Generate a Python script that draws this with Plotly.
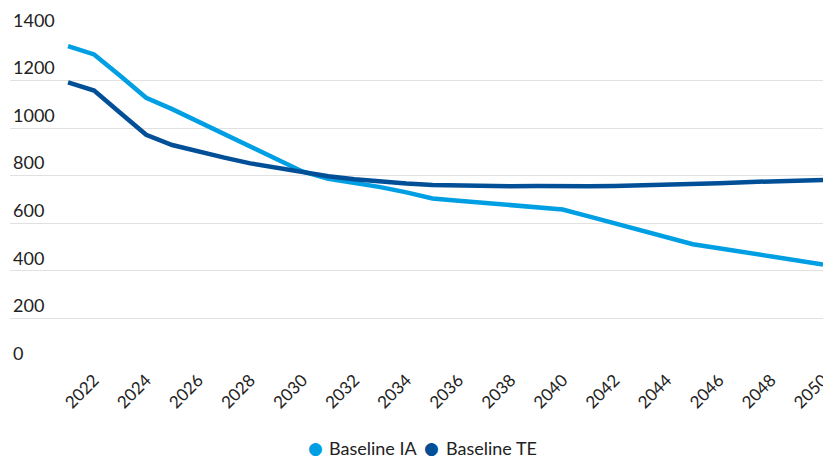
import plotly.graph_objects as go

years = list(range(2021, 2051))
baseline_ia = [1345, 1310, 1220, 1128, 1080, 1028, 976, 923, 870, 818,
               787, 770, 752, 730, 704, 695, 686, 676, 667, 658,
               629, 600, 570, 541, 512, 495, 478, 461, 444, 427]
baseline_te = [1192, 1158, 1065, 972, 929, 901, 876, 852, 834, 817,
               798, 785, 775, 767, 761, 758, 756, 756, 757, 755,
               756, 757, 759, 761, 765, 768, 773, 777, 780, 782]
x_ticks = list(range(2022, 2051, 2))
y_ticks = [0, 200, 400, 600, 800, 1000, 1200, 1400]
series_names = ["Baseline IA", "Baseline TE"]

c_ia = "#009fe3"
c_te = "#004f97"
font_family = "Lato, 'Noto Sans', sans-serif"
text_color = "#222222"

fig = go.Figure()
fig.add_trace(go.Scatter(x=years, y=baseline_ia, mode="lines", name=series_names[0],
                         line=dict(color=c_ia, width=4.5), showlegend=False))
fig.add_trace(go.Scatter(x=years, y=baseline_te, mode="lines", name=series_names[1],
                         line=dict(color=c_te, width=4.5), showlegend=False))

# custom legend (circle symbol + label), positioned in paper coordinates
plot_left, plot_w, plot_bottom, plot_h = 10, 813, 366, 333
legend_y = -(448 - plot_bottom) / plot_h
for name, color, cx, tx in [(series_names[0], c_ia, 315, 327),
                            (series_names[1], c_te, 432, 444)]:
    fig.add_annotation(text="●", xref="paper", yref="paper",
                       x=(cx - plot_left) / plot_w, y=legend_y,
                       xanchor="center", yanchor="middle", showarrow=False,
                       font=dict(size=17, color=color, family="DejaVu Sans"))
    fig.add_annotation(text=name, xref="paper", yref="paper",
                       x=(tx - plot_left) / plot_w, y=legend_y,
                       xanchor="left", yanchor="middle", showarrow=False,
                       font=dict(size=18, color=text_color, family=font_family))

fig.update_layout(
    width=823, height=457,
    margin=dict(l=10, r=0, t=33, b=91),
    paper_bgcolor="white", plot_bgcolor="white",
    font=dict(family=font_family, color=text_color, size=18),
    showlegend=False,
    xaxis=dict(range=[2018.77, 2050], tickmode="array", tickvals=x_ticks,
               ticktext=[str(v) for v in x_ticks], tickangle=-45,
               showgrid=False, zeroline=False, showline=False, automargin=False,
               ticklabeloverflow="allow",
               tickfont=dict(size=17, color=text_color), ticks=""),
    yaxis=dict(range=[0, 1400], tickmode="array", tickvals=y_ticks,
               ticktext=[str(v) for v in y_ticks],
               ticklabelposition="inside top", ticklabeloverflow="allow",
               showgrid=True, automargin=False,
               gridcolor="#e1e1e1", gridwidth=1, zeroline=False, showline=False,
               tickfont=dict(size=18, color=text_color), ticks=""),
)

fig.write_html("out.html")
